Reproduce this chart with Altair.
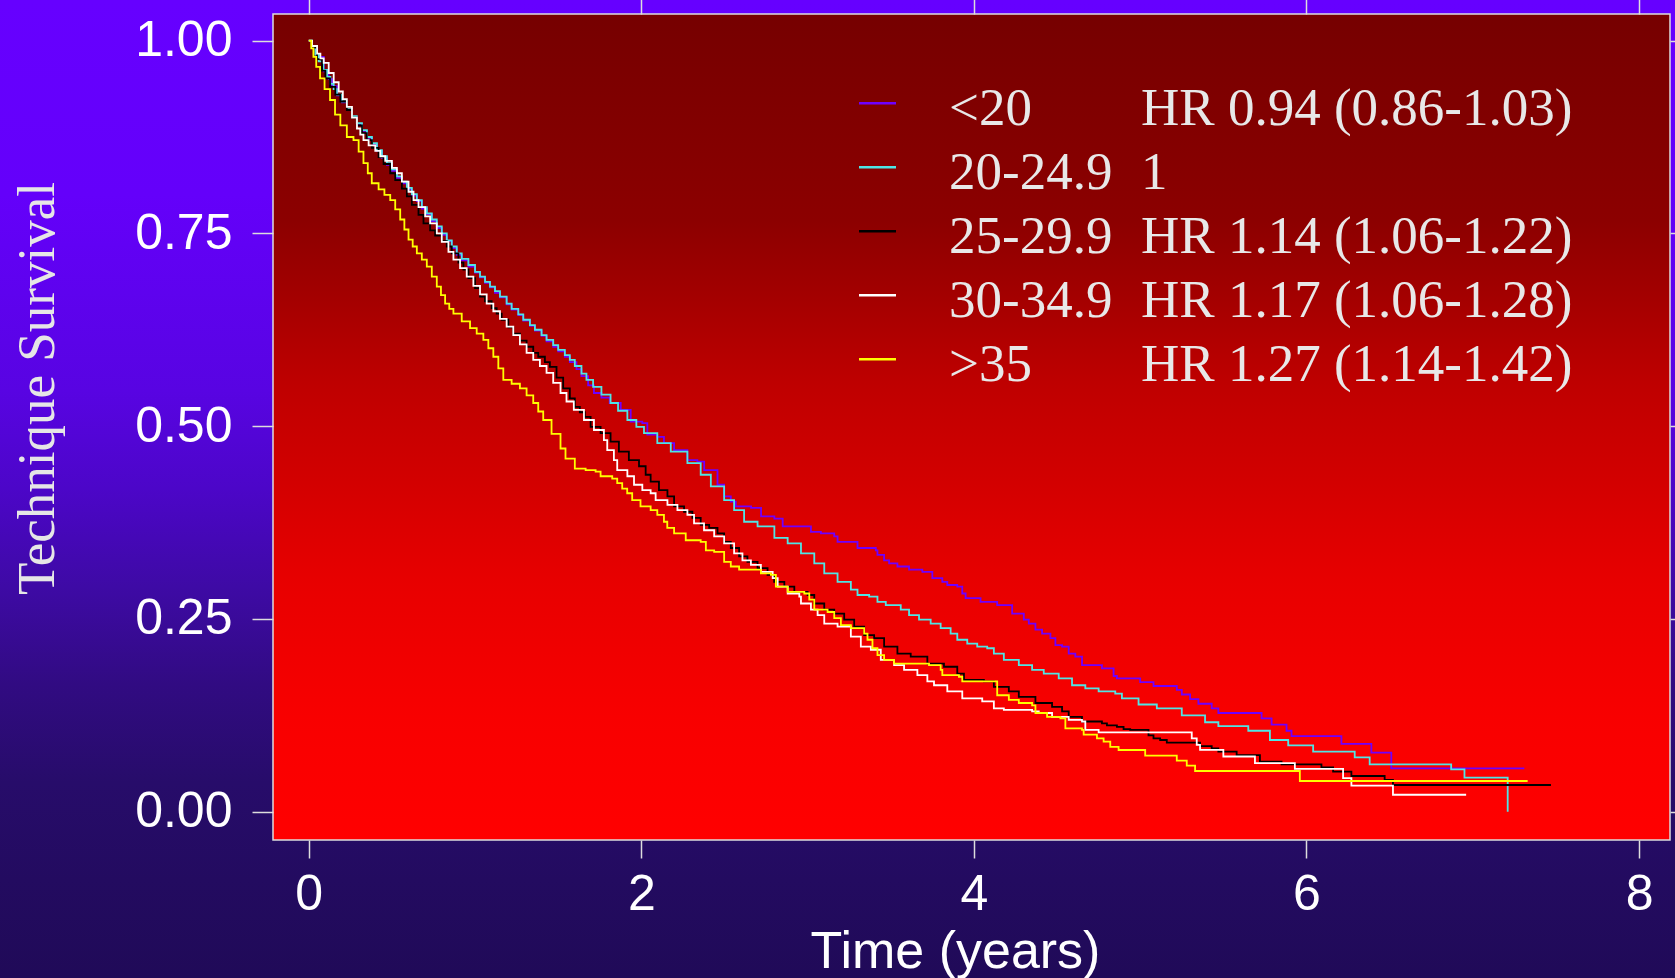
import altair as alt
import pandas as pd

groups = ["<20", "20-24.9", "25-29.9", "30-34.9", ">35"]
hr_text = ["HR 0.94 (0.86-1.03)", "1", "HR 1.14 (1.06-1.22)", "HR 1.17 (1.06-1.28)", "HR 1.27 (1.14-1.42)"]
colors = ["#6e00ff", "#4ee6e6", "#000000", "#ffffff", "#ffff00"]

t_lt20 = [0, 0.02, 0.05, 0.09, 0.12, 0.14, 0.17, 0.20, 0.23, 0.26, 0.29, 0.32, 0.35, 0.38, 0.41, 0.44, 0.47, 0.50, 0.53, 0.56, 0.59, 0.62, 0.65, 0.68, 0.71, 0.74, 0.77, 0.80, 0.83, 0.86, 0.89, 0.92, 0.96, 1.0, 1.03, 1.06, 1.09, 1.12, 1.15, 1.19, 1.22, 1.26, 1.29, 1.33, 1.36, 1.40, 1.43, 1.47, 1.50, 1.54, 1.57, 1.61, 1.64, 1.68, 1.715, 1.76, 1.81, 1.876, 1.936, 2.006, 2.036, 2.096, 2.136, 2.197, 2.277, 2.337, 2.378, 2.458, 2.498, 2.538, 2.568, 2.66, 2.72, 2.80, 2.85, 3.02, 3.08, 3.16, 3.18, 3.30, 3.41, 3.42, 3.46, 3.49, 3.54, 3.61, 3.69, 3.75, 3.81, 3.84, 3.90, 3.93, 3.95, 4.04, 4.14, 4.23, 4.30, 4.33, 4.37, 4.41, 4.46, 4.49, 4.53, 4.57, 4.61, 4.65, 4.77, 4.84, 4.86, 5.0, 5.08, 5.22, 5.25, 5.30, 5.35, 5.43, 5.47, 5.73, 5.79, 5.88, 5.91, 6.21, 6.39, 6.51, 7.31]
s_lt20 = [1.0, 0.991, 0.979, 0.960, 0.950, 0.941, 0.929, 0.920, 0.910, 0.901, 0.892, 0.883, 0.874, 0.866, 0.857, 0.848, 0.839, 0.831, 0.822, 0.815, 0.807, 0.799, 0.792, 0.782, 0.775, 0.766, 0.757, 0.748, 0.740, 0.731, 0.722, 0.715, 0.707, 0.699, 0.693, 0.686, 0.680, 0.673, 0.667, 0.658, 0.651, 0.644, 0.637, 0.630, 0.624, 0.617, 0.610, 0.603, 0.597, 0.590, 0.583, 0.574, 0.565, 0.553, 0.543, 0.537, 0.530, 0.521, 0.506, 0.504, 0.489, 0.486, 0.478, 0.469, 0.456, 0.454, 0.443, 0.424, 0.409, 0.402, 0.396, 0.394, 0.383, 0.380, 0.370, 0.363, 0.361, 0.357, 0.350, 0.342, 0.339, 0.333, 0.326, 0.322, 0.318, 0.314, 0.311, 0.303, 0.298, 0.294, 0.292, 0.283, 0.277, 0.272, 0.268, 0.257, 0.249, 0.244, 0.236, 0.231, 0.225, 0.216, 0.214, 0.205, 0.201, 0.190, 0.186, 0.176, 0.173, 0.168, 0.163, 0.158, 0.152, 0.146, 0.140, 0.134, 0.128, 0.121, 0.113, 0.105, 0.098, 0.088, 0.0765, 0.0563, 0.0563]

t_20 = [0, 0.02, 0.04, 0.06, 0.088, 0.11, 0.13, 0.15, 0.169, 0.20, 0.23, 0.26, 0.289, 0.32, 0.35, 0.38, 0.41, 0.44, 0.47, 0.50, 0.53, 0.56, 0.59, 0.62, 0.65, 0.68, 0.71, 0.74, 0.77, 0.80, 0.83, 0.86, 0.89, 0.92, 0.96, 1.0, 1.03, 1.06, 1.09, 1.12, 1.15, 1.19, 1.22, 1.26, 1.29, 1.33, 1.36, 1.40, 1.43, 1.47, 1.50, 1.54, 1.57, 1.60, 1.64, 1.67, 1.71, 1.76, 1.815, 1.86, 1.916, 1.97, 2.016, 2.096, 2.177, 2.277, 2.357, 2.418, 2.498, 2.558, 2.618, 2.699, 2.80, 2.88, 2.96, 3.04, 3.10, 3.18, 3.26, 3.30, 3.37, 3.42, 3.47, 3.56, 3.61, 3.67, 3.74, 3.80, 3.86, 3.90, 3.96, 4.02, 4.08, 4.12, 4.18, 4.27, 4.35, 4.42, 4.51, 4.59, 4.67, 4.75, 4.85, 4.89, 4.99, 5.10, 5.25, 5.39, 5.47, 5.65, 5.78, 5.89, 6.04, 6.29, 6.38, 6.87, 6.95, 7.21]
s_20 = [1.0, 0.992, 0.982, 0.973, 0.962, 0.953, 0.944, 0.937, 0.930, 0.921, 0.911, 0.902, 0.893, 0.884, 0.875, 0.867, 0.858, 0.850, 0.841, 0.833, 0.824, 0.817, 0.809, 0.801, 0.793, 0.784, 0.776, 0.768, 0.759, 0.750, 0.741, 0.733, 0.724, 0.717, 0.709, 0.700, 0.694, 0.687, 0.681, 0.675, 0.668, 0.659, 0.652, 0.645, 0.638, 0.631, 0.625, 0.618, 0.612, 0.605, 0.599, 0.592, 0.586, 0.578, 0.568, 0.560, 0.551, 0.541, 0.530, 0.520, 0.508, 0.499, 0.491, 0.478, 0.467, 0.452, 0.437, 0.422, 0.404, 0.391, 0.376, 0.370, 0.355, 0.348, 0.335, 0.322, 0.309, 0.298, 0.288, 0.281, 0.279, 0.272, 0.268, 0.262, 0.255, 0.249, 0.244, 0.238, 0.231, 0.223, 0.218, 0.214, 0.212, 0.205, 0.197, 0.190, 0.184, 0.179, 0.173, 0.164, 0.160, 0.156, 0.153, 0.147, 0.139, 0.134, 0.125, 0.116, 0.111, 0.105, 0.093, 0.086, 0.078, 0.0705, 0.0614, 0.0549, 0.0441, 0.0]

t_25 = [0, 0.02, 0.05, 0.08, 0.10, 0.128, 0.16, 0.19, 0.229, 0.26, 0.29, 0.32, 0.349, 0.38, 0.42, 0.45, 0.49, 0.52, 0.56, 0.59, 0.62, 0.66, 0.69, 0.73, 0.76, 0.80, 0.83, 0.86, 0.90, 0.93, 0.96, 1.00, 1.03, 1.06, 1.10, 1.13, 1.16, 1.20, 1.23, 1.27, 1.31, 1.35, 1.38, 1.42, 1.45, 1.49, 1.53, 1.57, 1.60, 1.63, 1.66, 1.695, 1.755, 1.815, 1.865, 1.925, 1.986, 2.026, 2.056, 2.106, 2.157, 2.197, 2.257, 2.307, 2.357, 2.408, 2.458, 2.498, 2.538, 2.588, 2.638, 2.699, 2.759, 2.799, 2.86, 2.92, 3.0, 3.04, 3.10, 3.16, 3.22, 3.28, 3.34, 3.40, 3.46, 3.54, 3.62, 3.72, 3.82, 3.90, 3.94, 4.06, 4.12, 4.21, 4.27, 4.37, 4.47, 4.53, 4.57, 4.65, 4.77, 4.80, 4.86, 4.90, 4.94, 5.05, 5.08, 5.12, 5.16, 5.36, 5.43, 5.47, 5.58, 5.72, 5.85, 6.09, 6.16, 6.27, 6.47, 6.52, 7.47]
s_25 = [1.0, 0.991, 0.976, 0.961, 0.951, 0.940, 0.930, 0.921, 0.910, 0.900, 0.890, 0.880, 0.871, 0.861, 0.849, 0.840, 0.828, 0.819, 0.808, 0.798, 0.787, 0.774, 0.763, 0.754, 0.747, 0.740, 0.733, 0.724, 0.712, 0.703, 0.692, 0.679, 0.668, 0.662, 0.653, 0.646, 0.638, 0.628, 0.620, 0.611, 0.603, 0.595, 0.590, 0.583, 0.577, 0.563, 0.549, 0.536, 0.525, 0.518, 0.512, 0.499, 0.491, 0.480, 0.467, 0.456, 0.448, 0.437, 0.428, 0.417, 0.409, 0.396, 0.389, 0.381, 0.372, 0.368, 0.361, 0.350, 0.342, 0.331, 0.324, 0.316, 0.307, 0.298, 0.292, 0.285, 0.281, 0.270, 0.262, 0.257, 0.249, 0.240, 0.229, 0.225, 0.214, 0.205, 0.201, 0.192, 0.188, 0.179, 0.171, 0.169, 0.162, 0.156, 0.149, 0.141, 0.136, 0.130, 0.123, 0.117, 0.1146, 0.112, 0.110, 0.107, 0.106, 0.099, 0.095, 0.093, 0.0895, 0.085, 0.082, 0.0778, 0.0735, 0.0649, 0.0614, 0.0575, 0.0519, 0.0463, 0.0411, 0.0346, 0.0346]

t_30 = [0, 0.02, 0.05, 0.07, 0.09, 0.12, 0.15, 0.18, 0.205, 0.229, 0.26, 0.29, 0.31, 0.329, 0.36, 0.40, 0.43, 0.46, 0.50, 0.53, 0.56, 0.60, 0.63, 0.66, 0.70, 0.73, 0.77, 0.80, 0.84, 0.87, 0.91, 0.95, 0.99, 1.03, 1.07, 1.11, 1.15, 1.19, 1.23, 1.27, 1.31, 1.35, 1.39, 1.43, 1.47, 1.514, 1.55, 1.594, 1.655, 1.715, 1.775, 1.795, 1.835, 1.855, 1.916, 1.956, 2.006, 2.056, 2.086, 2.157, 2.217, 2.277, 2.317, 2.377, 2.438, 2.498, 2.558, 2.608, 2.659, 2.719, 2.79, 2.82, 2.88, 2.95, 2.96, 3.02, 3.06, 3.10, 3.18, 3.26, 3.32, 3.38, 3.44, 3.52, 3.58, 3.66, 3.72, 3.76, 3.84, 3.93, 4.05, 4.12, 4.18, 4.35, 4.39, 4.47, 4.57, 4.65, 4.67, 4.75, 5.31, 5.34, 5.36, 5.50, 5.69, 5.93, 6.22, 6.27, 6.52, 6.96]
s_30 = [1.0, 0.993, 0.983, 0.977, 0.971, 0.958, 0.946, 0.934, 0.924, 0.914, 0.900, 0.886, 0.878, 0.871, 0.864, 0.857, 0.850, 0.844, 0.835, 0.828, 0.817, 0.804, 0.793, 0.784, 0.772, 0.763, 0.750, 0.739, 0.726, 0.716, 0.705, 0.694, 0.682, 0.671, 0.659, 0.649, 0.639, 0.629, 0.618, 0.606, 0.595, 0.586, 0.578, 0.569, 0.556, 0.543, 0.532, 0.521, 0.508, 0.495, 0.482, 0.469, 0.456, 0.443, 0.435, 0.424, 0.417, 0.413, 0.404, 0.398, 0.391, 0.385, 0.374, 0.365, 0.357, 0.348, 0.335, 0.326, 0.320, 0.311, 0.303, 0.292, 0.283, 0.279, 0.270, 0.262, 0.255, 0.244, 0.240, 0.227, 0.214, 0.210, 0.197, 0.190, 0.184, 0.177, 0.169, 0.164, 0.156, 0.147, 0.143, 0.134, 0.132, 0.130, 0.128, 0.123, 0.119, 0.117, 0.106, 0.103, 0.0952, 0.0866, 0.0802, 0.0716, 0.063, 0.0556, 0.0436, 0.0337, 0.022, 0.022]

t_35 = [0, 0.015, 0.028, 0.045, 0.068, 0.095, 0.128, 0.158, 0.19, 0.229, 0.269, 0.30, 0.329, 0.355, 0.379, 0.42, 0.455, 0.49, 0.52, 0.55, 0.575, 0.60, 0.625, 0.65, 0.68, 0.71, 0.74, 0.77, 0.795, 0.82, 0.845, 0.87, 0.92, 0.97, 1.01, 1.05, 1.08, 1.11, 1.14, 1.17, 1.22, 1.27, 1.31, 1.35, 1.38, 1.41, 1.46, 1.514, 1.544, 1.60, 1.665, 1.725, 1.755, 1.825, 1.855, 1.885, 1.915, 1.945, 1.995, 2.056, 2.096, 2.136, 2.156, 2.197, 2.267, 2.357, 2.388, 2.438, 2.498, 2.538, 2.588, 2.719, 2.779, 2.809, 2.88, 2.98, 3.01, 3.04, 3.12, 3.16, 3.20, 3.26, 3.34, 3.36, 3.39, 3.42, 3.46, 3.52, 3.73, 3.80, 3.81, 3.91, 3.93, 4.14, 4.21, 4.27, 4.35, 4.37, 4.44, 4.52, 4.55, 4.65, 4.66, 4.74, 4.78, 4.82, 4.87, 5.03, 5.22, 5.28, 5.33, 5.96, 7.33]
s_35 = [1.0, 0.990, 0.979, 0.966, 0.951, 0.937, 0.923, 0.904, 0.890, 0.875, 0.871, 0.856, 0.841, 0.828, 0.815, 0.807, 0.800, 0.793, 0.781, 0.768, 0.755, 0.742, 0.733, 0.724, 0.716, 0.707, 0.694, 0.681, 0.670, 0.659, 0.652, 0.646, 0.636, 0.627, 0.620, 0.612, 0.601, 0.590, 0.575, 0.560, 0.555, 0.549, 0.540, 0.530, 0.519, 0.508, 0.490, 0.471, 0.458, 0.445, 0.443, 0.441, 0.435, 0.432, 0.426, 0.419, 0.413, 0.404, 0.396, 0.391, 0.385, 0.376, 0.368, 0.361, 0.352, 0.350, 0.339, 0.337, 0.324, 0.318, 0.314, 0.309, 0.307, 0.292, 0.285, 0.283, 0.275, 0.262, 0.259, 0.251, 0.242, 0.238, 0.231, 0.223, 0.212, 0.203, 0.197, 0.192, 0.190, 0.184, 0.177, 0.175, 0.169, 0.151, 0.145, 0.141, 0.138, 0.128, 0.123, 0.121, 0.108, 0.106, 0.100, 0.095, 0.091, 0.084, 0.080, 0.0727, 0.0662, 0.0597, 0.0528, 0.0398, 0.0398]

x_ticks = [0, 2, 4, 6, 8]
y_ticks = [0, 0.25, 0.5, 0.75, 1.0]

series = [(groups[0], t_lt20, s_lt20), (groups[1], t_20, s_20), (groups[2], t_25, s_25),
          (groups[3], t_30, s_30), (groups[4], t_35, s_35)]
rows = []
for gi, (g, ts, ss) in enumerate(series):
    for t, s in zip(ts, ss):
        rows.append({"group": g, "order": gi, "time": t, "surv": s})
df = pd.DataFrame(rows)
leg = pd.DataFrame({"group": groups, "hr": hr_text, "row": list(range(len(groups)))})

W, H = 1397, 826
xdom = [-0.215, 8.186]
ydom = [-0.0367, 1.0345]
xs = alt.Scale(domain=xdom, nice=False, zero=False)
ys = alt.Scale(domain=ydom, nice=False, zero=False)
cscale = alt.Scale(domain=groups, range=colors)
one = pd.DataFrame({"k": [0]})

bg_grad = {"gradient": "linear", "x1": 0, "y1": 0, "x2": 0, "y2": 1,
           "stops": [{"offset": 0, "color": "#6600ff"}, {"offset": 0.2, "color": "#6400fa"},
                     {"offset": 0.4, "color": "#5804e2"}, {"offset": 0.5, "color": "#4c06c8"},
                     {"offset": 0.6, "color": "#3e0aa5"}, {"offset": 0.7, "color": "#310b82"},
                     {"offset": 0.8, "color": "#270c6a"}, {"offset": 0.9, "color": "#230b60"},
                     {"offset": 1, "color": "#200a58"}]}
red_grad = {"gradient": "linear", "x1": 0, "y1": 0, "x2": 0, "y2": 1,
            "stops": [{"offset": 0, "color": "#760000"}, {"offset": 0.25, "color": "#8c0000"},
                      {"offset": 0.45, "color": "#bf0000"}, {"offset": 0.69, "color": "#e80000"},
                      {"offset": 0.85, "color": "#f80000"}, {"offset": 1, "color": "#ff0000"}]}

bg = alt.Chart(one).mark_rect(color=bg_grad).encode(
    x=alt.value(-273), x2=alt.value(W + 5), y=alt.value(-14), y2=alt.value(H + 138))
red = alt.Chart(one).mark_rect(color=red_grad).encode(
    x=alt.value(0), x2=alt.value(W), y=alt.value(0), y2=alt.value(H))

lines = alt.Chart(df).mark_line(interpolate="step-after", strokeWidth=1.8).encode(
    x=alt.X("time:Q", scale=xs, axis=alt.Axis(
        orient="bottom", values=x_ticks, grid=False, domain=False, labelFlush=False,
        labelFont="Liberation Sans", labelFontSize=50, labelColor="#ffffff", labelPadding=11,
        tickColor="#dddddd", tickWidth=1.5, tickSize=18, zindex=1,
        title="Time (years)", titleFont="Liberation Sans", titleFontSize=52,
        titleFontWeight="normal", titleColor="#ffffff", titleX=682, titleY=127,
        titleBaseline="alphabetic", titleAlign="center")),
    y=alt.Y("surv:Q", scale=ys, axis=alt.Axis(
        orient="left", values=y_ticks, format=".2f", grid=False, domain=False,
        labelFont="Liberation Sans", labelFontSize=50, labelColor="#ffffff", labelPadding=20,
        labelBaseline="middle", labelFlush=False,
        tickColor="#dddddd", tickWidth=1.5, tickSize=21, zindex=1,
        title="Technique Survival", titleFont="Liberation Serif", titleFontSize=53,
        titleFontWeight="normal", titleColor="#e6e6e6", titleAngle=270, titleX=-220,
        titleY=374, titleBaseline="alphabetic", titleAlign="center")),
    color=alt.Color("group:N", scale=cscale, legend=None),
    detail="group:N",
    order=alt.Order("time:Q"),
)

axes2 = alt.Chart(df).mark_point(opacity=0).encode(
    x=alt.X("time:Q", scale=xs, axis=alt.Axis(
        orient="top", values=x_ticks, grid=False, domain=False, labels=False,
        tickColor="#dddddd", tickWidth=1.5, tickSize=16, title=None, zindex=1)),
    y=alt.Y("surv:Q", scale=ys, axis=alt.Axis(
        orient="right", values=y_ticks, grid=False, domain=False, labels=False,
        tickColor="#dddddd", tickWidth=1.5, tickSize=12, title=None, zindex=1)),
)

rowscale = alt.Scale(domain=[0, 4], range=[111, 367])
leg_rule = alt.Chart(leg).mark_rule(strokeWidth=2.5, yOffset=-21.7).encode(
    x=alt.value(586), x2=alt.value(623),
    y=alt.Y("row:Q", scale=rowscale, axis=None),
    color=alt.Color("group:N", scale=cscale, legend=None))
leg_t1 = alt.Chart(leg).mark_text(align="left", baseline="alphabetic", font="Liberation Serif",
                                  fontSize=53, color="#e8e8e8").encode(
    x=alt.value(676), y=alt.Y("row:Q", scale=rowscale, axis=None), text="group:N")
leg_t2 = alt.Chart(leg).mark_text(align="left", baseline="alphabetic", font="Liberation Serif",
                                  fontSize=53, color="#e8e8e8").encode(
    x=alt.value(868), y=alt.Y("row:Q", scale=rowscale, axis=None), text="hr:N")

frame = alt.Chart(one).mark_rect(fillOpacity=0, stroke="#dddddd", strokeWidth=1.5).encode(
    x=alt.value(0), x2=alt.value(W), y=alt.value(0), y2=alt.value(H))

chart = alt.layer(bg, red, lines, axes2, leg_rule, leg_t1, leg_t2, frame).resolve_scale(
    x="independent", y="independent"
).properties(
    width=W, height=H,
    padding={"left": 273, "top": 14, "right": 5, "bottom": 138},
    autosize=alt.AutoSizeParams(type="none"),
).configure_view(stroke=None).configure(background="#200a58")

chart.save("out.html", embed_options={"renderer": "svg", "actions": False})
